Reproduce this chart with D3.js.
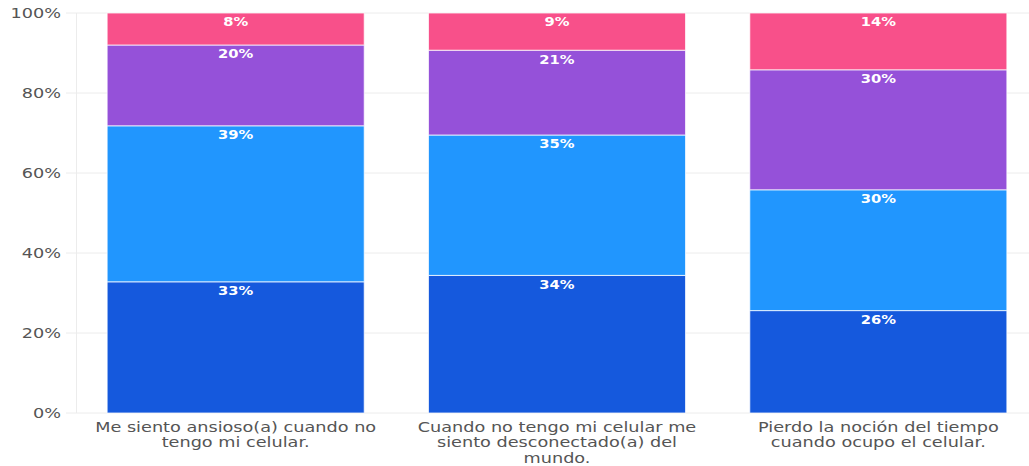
<!DOCTYPE html>
<html>
<head>
<meta charset="utf-8">
<script src="https://cdn.jsdelivr.net/npm/d3@7"></script>
<style>
  html, body { margin: 0; padding: 0; background: #fff; }
  svg { display: block; }
  text { font-family: "DejaVu Sans", sans-serif; }
</style>
</head>
<body>
<svg id="chart" width="1029" height="466"></svg>
<script>
// Statements (one stacked bar each)
const categories = [
  "Me siento ansioso(a) cuando no tengo mi celular.",
  "Cuando no tengo mi celular me siento desconectado(a) del mundo.",
  "Pierdo la noción del tiempo cuando ocupo el celular."
];
// Wrapped label lines for each statement
const categoryLines = [
  ["Me siento ansioso(a) cuando no", "tengo mi celular."],
  ["Cuando no tengo mi celular me", "siento desconectado(a) del", "mundo."],
  ["Pierdo la noción del tiempo", "cuando ocupo el celular."]
];
// Response levels, bottom to top
const seriesNames = ["nivel1", "nivel2", "nivel3", "nivel4"];
const nivel1 = [32.8, 34.4, 25.6];
const nivel2 = [39.0, 35.1, 30.2];
const nivel3 = [20.2, 21.2, 30.0];
const nivel4 = [8.0, 9.3, 14.2];
const seriesColors = ["#1559dd", "#2196fe", "#9551d9", "#f8508a"];
const yTicks = [0, 20, 40, 60, 80, 100];

const rows = categories.map((c, i) => ({
  cat: c, nivel1: nivel1[i], nivel2: nivel2[i], nivel3: nivel3[i], nivel4: nivel4[i]
}));

// horizontal stretch for the wide lettering
const WIDEN_AXIS = 1.31;
const WIDEN_CAT = 1.33;
const WIDEN_VAL = 1.18;

const svg = d3.select("#chart");
const x = d3.scaleBand().domain(categories).range([75, 1039]).paddingInner(0.2).paddingOuter(0.1);
const y = d3.scaleLinear().domain([0, 100]).range([413, 13]);

// gridlines
svg.append("g").selectAll("line").data(yTicks).join("line")
  .attr("x1", 66).attr("x2", 1029)
  .attr("y1", d => y(d)).attr("y2", d => y(d))
  .attr("stroke", "#ececec").attr("stroke-width", 1);
svg.append("line").attr("x1", 76.5).attr("x2", 76.5).attr("y1", 13).attr("y2", 413)
  .attr("stroke", "#ececec");

// y axis labels
const yAxis = d3.axisLeft(y).tickValues(yTicks).tickFormat(d => d + "%").tickSize(0).tickPadding(0);
const gy = svg.append("g").attr("transform", `translate(61,0) scale(${WIDEN_AXIS},1)`).call(yAxis);
gy.select(".domain").remove();
gy.selectAll("text").attr("fill", "#555").attr("font-size", 13.5).attr("dy", "0.36em").attr("x", 0);

// stacked bars
const stack = d3.stack().keys(seriesNames);
const layers = stack(rows);
const g = svg.append("g");
layers.forEach((layer, li) => {
  g.selectAll(null).data(layer).join("rect")
    .attr("x", d => x(d.data.cat))
    .attr("width", x.bandwidth())
    .attr("y", d => y(d[1]))
    .attr("height", d => y(d[0]) - y(d[1]))
    .attr("fill", seriesColors[li])
    .attr("stroke", "rgba(255,255,255,0.75)")
    .attr("stroke-width", 1);
});
layers.forEach((layer, li) => {
  g.selectAll(null).data(layer).join("g")
    .attr("transform", d => `translate(${x(d.data.cat) + x.bandwidth() / 2},${y(d[1]) + 9}) scale(${WIDEN_VAL},1)`)
    .append("text")
    .attr("dy", "0.35em")
    .attr("text-anchor", "middle")
    .attr("fill", "#fff")
    .attr("font-weight", "bold")
    .attr("font-size", 12.5)
    .text(d => Math.round(d[1] - d[0]) + "%");
});

// category labels, one text per wrapped line
const gx = svg.append("g");
categories.forEach((c, i) => {
  const cg = gx.append("g")
    .attr("transform", `translate(${x(c) + x.bandwidth() / 2},0) scale(${WIDEN_CAT},1)`);
  categoryLines[i].forEach((line, j) => {
    cg.append("text")
      .attr("x", 0)
      .attr("y", 427 + j * 15.5)
      .attr("dy", "0.35em")
      .attr("text-anchor", "middle")
      .attr("fill", "#555")
      .attr("font-size", 13.3)
      .text(line);
  });
});
</script>
</body>
</html>
